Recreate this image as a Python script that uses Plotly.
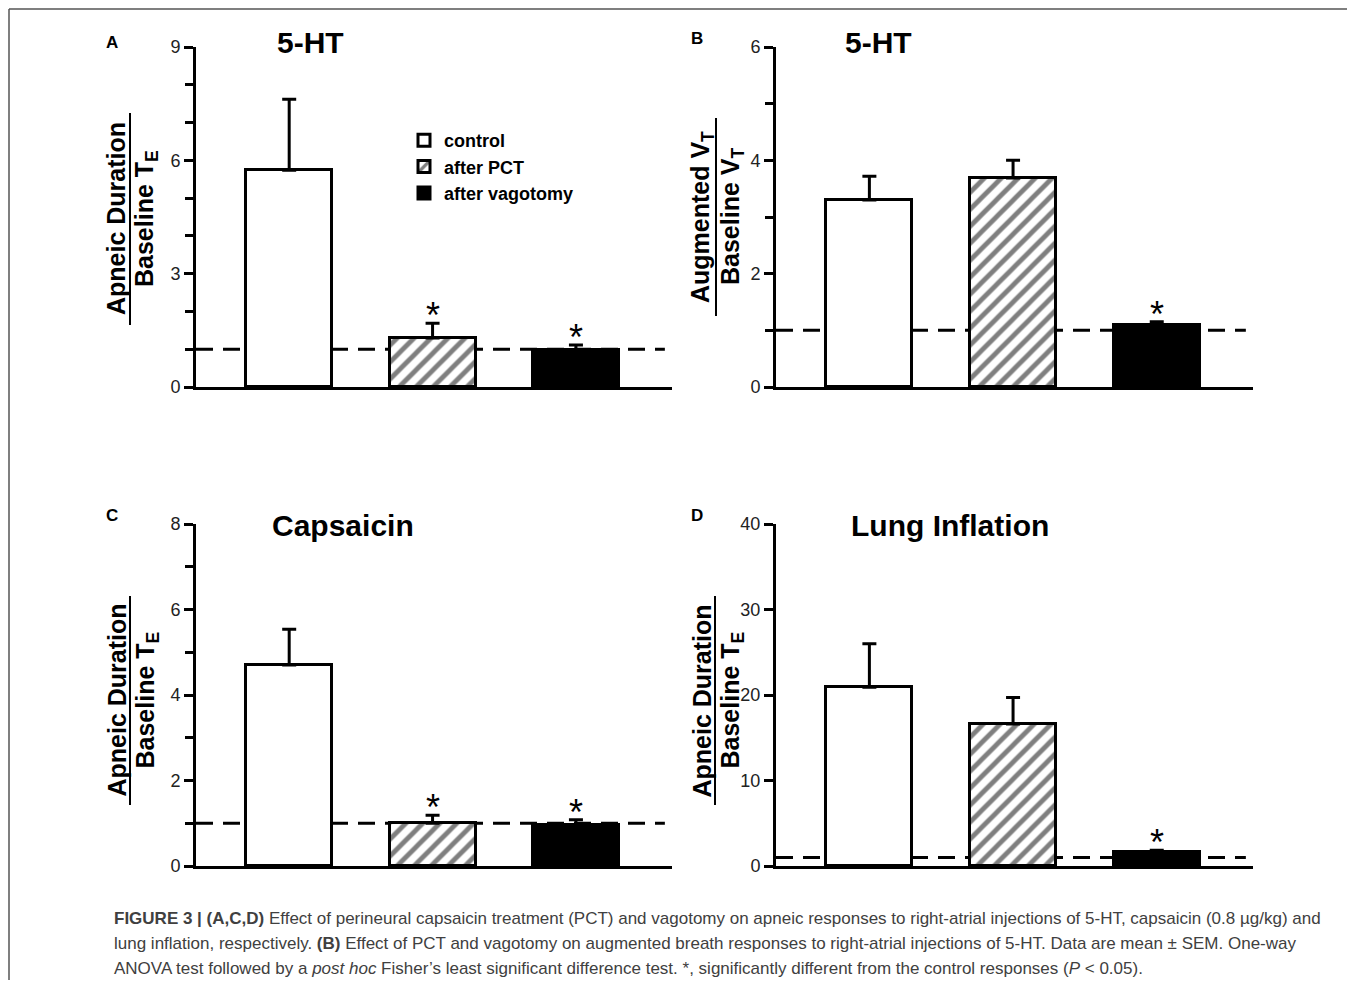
import plotly.graph_objects as go

W, H = 1355, 988          # page size
OFF = 8                   # default body margin of the html page
FW, FH = W - 2 * OFF, H - 2 * OFF

# ---------------- data ----------------
groups = ["control", "after PCT", "after vagotomy"]
group_x = [0, 1, 2]

a_mean = [5.74, 1.30, 0.98]
a_sem = [1.88, 0.39, 0.13]
a_sig = [False, True, True]

b_mean = [3.30, 3.69, 1.09]
b_sem = [0.42, 0.31, 0.06]
b_sig = [False, False, True]

c_mean = [4.70, 1.00, 0.96]
c_sem = [0.84, 0.19, 0.12]
c_sig = [False, True, True]

d_mean = [20.9, 16.6, 1.6]
d_sem = [5.1, 3.1, 0.25]
d_sig = [False, False, True]

panel_titles = ["5-HT", "5-HT", "Capsaicin", "Lung Inflation"]
panel_letters = ["A", "B", "C", "D"]
y_max = [9, 6, 8, 40]
y_dtick = [3, 2, 2, 10]
y_minor = [1, 1, 1, None]
baseline = 1.0

caption_lines = [
    "<b>FIGURE 3 | (A,C,D)</b> Effect of perineural capsaicin treatment (PCT) and vagotomy on apneic responses to right-atrial injections of 5-HT, capsaicin (0.8 \u00b5g/kg) and",
    "lung inflation, respectively. <b>(B)</b> Effect of PCT and vagotomy on augmented breath responses to right-atrial injections of 5-HT. Data are mean \u00b1 SEM. One-way",
    "ANOVA test followed by a <i>post hoc</i> Fisher\u2019s least significant difference test. *, significantly different from the control responses (<i>P</i> &lt; 0.05).",
]

# ---------------- helpers (page pixels -> paper) ----------------
def px(x):
    return (x - OFF) / FW

def py(y):
    return 1 - (y - OFF) / FH

FONT = "Arial, 'Liberation Sans', Helvetica, sans-serif"

fig = go.Figure()

panels = [
    dict(mean=a_mean, sem=a_sem, sig=a_sig, xd=(196, 672), yd=(47, 387),
         num="Apneic Duration", den="Baseline T<sub>E</sub>", linex=130, ly=(113, 325),
         title_xy=(310, 42), letter_xy=(112, 42)),
    dict(mean=b_mean, sem=b_sem, sig=b_sig, xd=(776, 1253), yd=(47, 387),
         num="Augmented V<sub>T</sub>", den="Baseline V<sub>T</sub>", linex=716, ly=(118, 316),
         title_xy=(878, 42), letter_xy=(697, 38)),
    dict(mean=c_mean, sem=c_sem, sig=c_sig, xd=(196, 672), yd=(524, 866),
         num="Apneic Duration", den="Baseline T<sub>E</sub>", linex=130, ly=(596, 805),
         title_xy=(343, 525), letter_xy=(112, 516)),
    dict(mean=d_mean, sem=d_sem, sig=d_sig, xd=(776, 1253), yd=(524, 866),
         num="Apneic Duration", den="Baseline T<sub>E</sub>", linex=715, ly=(596, 805),
         title_xy=(950, 525), letter_xy=(697, 516)),
]

fills = [
    dict(color="white", pattern=None),
    dict(color="white", pattern=dict(shape="/", fgcolor="black", bgcolor="white", size=12, solidity=0.4)),
    dict(color="black", pattern=None),
]

annotations = []
shapes = []

for i, p in enumerate(panels):
    k = i + 1
    xa = "x" if k == 1 else f"x{k}"
    ya = "y" if k == 1 else f"y{k}"
    for g in range(3):
        marker = dict(color=fills[g]["color"], line=dict(color="black", width=3))
        if fills[g]["pattern"] is not None:
            marker["pattern"] = fills[g]["pattern"]
        fig.add_trace(go.Bar(
            x=[group_x[g]], y=[p["mean"][g]], width=0.6,
            name=f"<b>{groups[g]}</b>", legendgroup=groups[g], showlegend=(i == 0),
            marker=marker,
            error_y=dict(type="data", array=[p["sem"][g]], arrayminus=[0], symmetric=False,
                         thickness=3, width=7, color="black"),
            xaxis=xa, yaxis=ya,
        ))
        if p["sig"][g]:
            annotations.append(dict(
                x=group_x[g], y=p["mean"][g] + p["sem"][g], xref=xa, yref=ya,
                text="*", showarrow=False, xanchor="center", yanchor="bottom",
                yshift=-15, font=dict(family=FONT, size=36, color="black")))

    # dashed baseline at 1
    shapes.append(dict(type="line", xref=f"{xa} domain", yref=ya, x0=0, x1=0.985,
                       y0=baseline, y1=baseline, layer="below",
                       line=dict(color="black", width=3, dash="17px,10px")))

    # axes
    yax = dict(domain=[py(p["yd"][1]), py(p["yd"][0])], range=[0, y_max[i]],
               tickmode="linear", tick0=0, dtick=y_dtick[i],
               ticks="outside", ticklen=9, tickwidth=3, tickcolor="black",
               showline=True, linecolor="black", linewidth=3,
               showgrid=False, zeroline=False, anchor=xa, automargin=False,
               tickfont=dict(family=FONT, size=18, color="#222222"))
    if y_minor[i] is not None:
        yax["minor"] = dict(dtick=y_minor[i], tick0=0, ticks="outside", ticklen=8,
                            tickwidth=3, tickcolor="black", showgrid=False)
    xax = dict(domain=[px(p["xd"][0]), px(p["xd"][1])], range=[-0.65, 2.67],
               showline=True, linecolor="black", linewidth=3, automargin=False,
               showticklabels=False, ticks="", showgrid=False, zeroline=False, anchor=ya)
    fig.update_layout(**{("xaxis" if k == 1 else f"xaxis{k}"): xax,
                         ("yaxis" if k == 1 else f"yaxis{k}"): yax})

    # titles and letters
    annotations.append(dict(x=px(p["title_xy"][0]), y=py(p["title_xy"][1]), xref="paper", yref="paper",
                            text=f"<b>{panel_titles[i]}</b>", showarrow=False,
                            xanchor="center", yanchor="middle",
                            font=dict(family=FONT, size=30, color="black")))
    annotations.append(dict(x=px(p["letter_xy"][0]), y=py(p["letter_xy"][1]), xref="paper", yref="paper",
                            text=f"<b>{panel_letters[i]}</b>", showarrow=False,
                            xanchor="center", yanchor="middle",
                            font=dict(family=FONT, size=17, color="black")))
    # y-axis fraction title
    ymid = (p["ly"][0] + p["ly"][1]) / 2
    annotations.append(dict(x=px(p["linex"] - 14), y=py(ymid), xref="paper", yref="paper",
                            text=f"<b>{p['num']}</b>", showarrow=False, textangle=-90,
                            xanchor="center", yanchor="middle",
                            font=dict(family=FONT, size=25, color="black")))
    annotations.append(dict(x=px(p["linex"] + 16), y=py(ymid), xref="paper", yref="paper",
                            text=f"<b>{p['den']}</b>", showarrow=False, textangle=-90,
                            xanchor="center", yanchor="middle",
                            font=dict(family=FONT, size=25, color="black")))
    shapes.append(dict(type="line", xref="paper", yref="paper",
                       x0=px(p["linex"]), x1=px(p["linex"]),
                       y0=py(p["ly"][0]), y1=py(p["ly"][1]),
                       line=dict(color="black", width=2)))

# caption
for j, line in enumerate(caption_lines):
    annotations.append(dict(x=px(112), y=py(918 + 25 * j), xref="paper", yref="paper",
                            text=line, showarrow=False, xanchor="left", yanchor="middle",
                            align="left", font=dict(family=FONT, size=17, color="#404040")))

# figure frame (left and top border)
shapes.append(dict(type="line", xref="paper", yref="paper", x0=px(9), x1=px(9), y0=0, y1=py(9),
                   line=dict(color="#555555", width=1.5)))
shapes.append(dict(type="line", xref="paper", yref="paper", x0=px(9), x1=1, y0=py(9), y1=py(9),
                   line=dict(color="#555555", width=1.5)))

fig.update_layout(
    width=FW, height=FH, autosize=False,
    margin=dict(l=0, r=0, t=0, b=0, autoexpand=False),
    paper_bgcolor="white", plot_bgcolor="white",
    barmode="overlay", bargap=0,
    showlegend=True,
    legend=dict(x=px(404), y=py(122), xanchor="left", yanchor="top",
                bgcolor="rgba(0,0,0,0)", tracegroupgap=0,
                font=dict(family=FONT, size=18, color="black"), itemwidth=30),
    annotations=annotations, shapes=shapes,
)

fig.write_html("out.html")
